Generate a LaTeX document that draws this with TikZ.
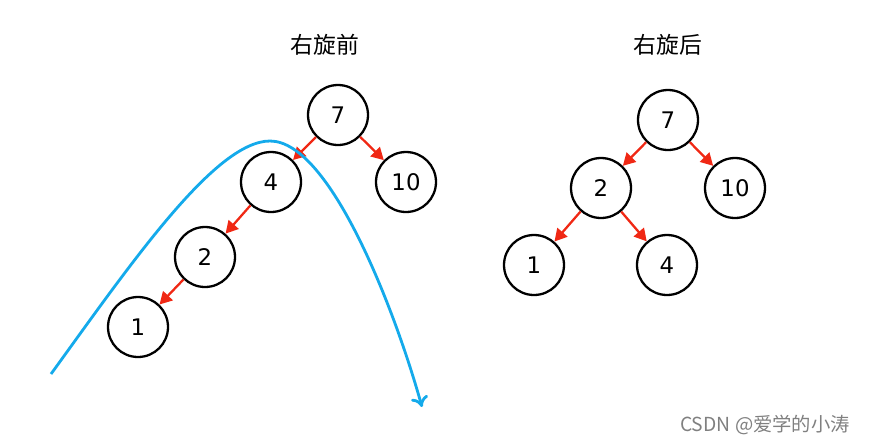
\documentclass[tikz,border=0pt]{standalone}
\usepackage{fontspec}
\setmainfont{DejaVu Sans}
\newfontfamily\cjk{Noto Sans CJK SC}
\usetikzlibrary{arrows.meta}
\definecolor{edgered}{RGB}{240,40,20}
\definecolor{curveblue}{RGB}{20,170,235}
\tikzset{
  knot/.style={circle, draw, line width=1.3pt, minimum size=1.2cm, inner sep=0pt, font=\fontsize{13}{15}\selectfont},
  link/.style={edgered, line width=1.3pt, -{Triangle[length=7pt,width=7.5pt]}},
}
\begin{document}
\begin{tikzpicture}[x=0.02cm, y=-0.02cm]
  \useasboundingbox (0,0) rectangle (875,444);
  % before
  \node[font=\cjk\fontsize{13}{15}\selectfont] (t1) at (325,45) {右旋前};
  \node[knot] (a7) at (338,115) {7};
  \node[knot] (a4) at (271,182) {4};
  \node[knot] (a10) at (406,182) {10};
  \node[knot] (a2) at (205,257) {2};
  \node[knot] (a1) at (138,327) {1};
  \foreach \u/\v in {a7/a4, a7/a10, a4/a2, a2/a1} \draw[link] (\u) -- (\v);
  \coordinate (c0) at (51,374);
  \coordinate (top) at (270,141);
  \coordinate (c1) at (422,407);
  \draw[curveblue, line width=1.6pt, -{To[length=6pt,width=10pt]}] (c0) .. controls (130,265) and (215,141) .. (top)
    .. controls (330,141) and (395,310) .. (c1);
  % after
  \node[font=\cjk\fontsize{13}{15}\selectfont] (t2) at (668,45) {右旋后};
  \node[knot] (b7) at (668,120) {7};
  \node[knot] (b2) at (601,188) {2};
  \node[knot] (b10) at (735,188) {10};
  \node[knot] (b1) at (534,265) {1};
  \node[knot] (b4) at (667,265) {4};
  \foreach \u/\v in {b7/b2, b7/b10, b2/b1, b2/b4} \draw[link] (\u) -- (\v);
  \node[gray, font=\cjk\fontsize{11}{13}\selectfont] (wm) at (765,425) {CSDN @爱学的小涛};
\end{tikzpicture}
\end{document}
